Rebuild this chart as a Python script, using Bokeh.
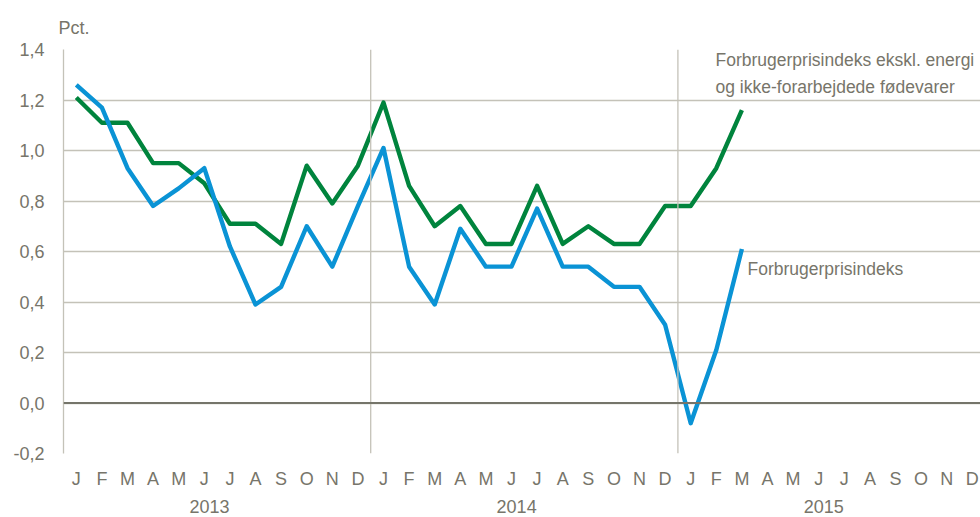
from bokeh.plotting import figure
from bokeh.models import FixedTicker, Span, Label, LinearAxis, ColumnDataSource
from bokeh.embed import file_html
from bokeh.resources import INLINE

# ---- data ----
months = ["J", "F", "M", "A", "M", "J", "J", "A", "S", "O", "N", "D"] * 3
years = ["2013", "2014", "2015"]
cpi = [1.26, 1.17, 0.93, 0.78, 0.85, 0.93, 0.62, 0.39, 0.46, 0.70, 0.54, 0.78,
       1.01, 0.54, 0.39, 0.69, 0.54, 0.54, 0.77, 0.54, 0.54, 0.46, 0.46, 0.31,
       -0.08, 0.21, 0.61]
core = [1.21, 1.11, 1.11, 0.95, 0.95, 0.87, 0.71, 0.71, 0.63, 0.94, 0.79, 0.94,
        1.19, 0.86, 0.70, 0.78, 0.63, 0.63, 0.86, 0.63, 0.70, 0.63, 0.63, 0.78,
        0.78, 0.93, 1.16]
y_ticks = [-0.2, 0.0, 0.2, 0.4, 0.6, 0.8, 1.0, 1.2, 1.4]
y_labels = ["-0,2", "0,0", "0,2", "0,4", "0,6", "0,8", "1,0", "1,2", "1,4"]
series_names = ["Forbrugerprisindeks",
                "Forbrugerprisindeks ekskl. energi\nog ikke-forarbejdede fødevarer"]
unit_label = "Pct."

FONT = "Liberation Sans"
TXT = "#77756a"
GRID = "#c4c2b8"
BLUE = "#0a93d5"
GREEN = "#00843d"

p = figure(width=980, height=517, frame_width=917, frame_height=404,
           output_backend="svg", toolbar_location=None,
           x_range=(-0.5, 35.32), y_range=(-0.2, 1.4),
           min_border_left=63, min_border_right=0, min_border_top=49,
           min_border_bottom=10)
p.outline_line_color = None
p.background_fill_color = "white"
p.border_fill_color = "white"

# title as unit label
p.title.text = unit_label
p.title.text_font = FONT
p.title.text_font_size = "18px"
p.title.text_font_style = "normal"
p.title.text_color = TXT
p.title.align = "left"
p.title.offset = -5
p.title.standoff = 23

# grids
p.xgrid.visible = False
p.ygrid.ticker = FixedTicker(ticks=y_ticks)
p.ygrid.grid_line_color = GRID
p.ygrid.grid_line_width = 1.3

for xb in [11.5, 23.5]:
    p.add_layout(Span(location=xb, dimension="height", line_color=GRID, line_width=1.3))
p.add_layout(Span(location=0, dimension="width", line_color="#75756a", line_width=2.2))

# y axis
ya = p.yaxis[0]
ya.ticker = FixedTicker(ticks=y_ticks)
ya.major_label_overrides = {t: l for t, l in zip(y_ticks, y_labels)}
ya.axis_line_color = GRID
ya.axis_line_width = 1.3
ya.major_tick_line_color = None
ya.minor_tick_line_color = None
ya.major_tick_out = 0
ya.major_tick_in = 0
ya.minor_tick_out = 0
ya.major_label_standoff = 19
ya.major_label_text_font = FONT
ya.major_label_text_font_size = "18px"
ya.major_label_text_color = TXT

# x axis months
xa = p.xaxis[0]
idx = list(range(len(months)))
xa.ticker = FixedTicker(ticks=idx)
xa.major_label_overrides = {i: m for i, m in zip(idx, months)}
xa.axis_line_color = None
xa.major_tick_line_color = None
xa.minor_tick_line_color = None
xa.major_tick_out = 0
xa.major_tick_in = 0
xa.minor_tick_out = 0
xa.major_label_standoff = 15
xa.major_label_text_font = FONT
xa.major_label_text_font_size = "18px"
xa.major_label_text_color = TXT

# x axis years
year_pos = [5.2, 17.2, 29.2]
xa2 = LinearAxis(ticker=FixedTicker(ticks=year_pos),
                 major_label_overrides={t: y for t, y in zip(year_pos, years)})
xa2.axis_line_color = None
xa2.major_tick_line_color = None
xa2.minor_tick_line_color = None
xa2.major_tick_out = 0
xa2.major_tick_in = 0
xa2.minor_tick_out = 0
xa2.major_label_standoff = 8
xa2.major_label_text_font = FONT
xa2.major_label_text_font_size = "18px"
xa2.major_label_text_color = TXT
p.add_layout(xa2, "below")

# lines
src_cpi = ColumnDataSource(dict(x=list(range(len(cpi))), y=cpi))
src_core = ColumnDataSource(dict(x=list(range(len(core))), y=core))
p.line("x", "y", source=src_core, line_color=GREEN, line_width=4.4, line_join="round")
p.line("x", "y", source=src_cpi, line_color=BLUE, line_width=4.4, line_join="round")

# series labels
p.add_layout(Label(x=26.22, y=0.531, text=series_names[0], text_font=FONT,
                   text_font_size="17.5px", text_color=TXT, text_baseline="middle"))
p.add_layout(Label(x=24.97, y=1.399, text=series_names[1], text_font=FONT,
                   text_font_size="17.5px", text_color=TXT, text_baseline="top",
                   text_line_height=1.38))

open("out.html", "w").write(file_html(p, INLINE))
